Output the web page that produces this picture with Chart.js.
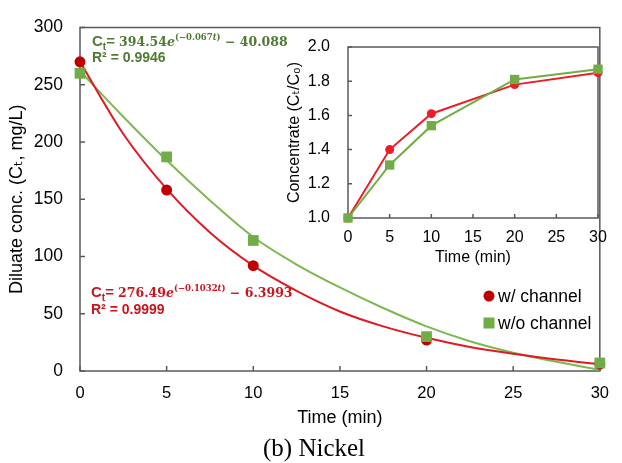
<!DOCTYPE html>
<html>
<head>
<meta charset="utf-8">
<script src="https://cdn.jsdelivr.net/npm/chart.js@4.4.1/dist/chart.umd.min.js"></script>
<style>
  html, body { margin: 0; padding: 0; background: #fff; }
  #wrap { position: relative; width: 622px; height: 463px; }
  #wrap canvas { position: absolute; left: 0; top: 0; }
</style>
</head>
<body>
<div id="wrap">
  <canvas id="main" width="622" height="463"></canvas>
  <canvas id="inset" width="622" height="463"></canvas>
</div>
<script>
// sampling times (min)
const timePoints = [0, 5, 10, 20, 30];

// diluate concentration, mg/L
const diluteWith = [270, 158, 92, 27, 6];
const diluteWithout = [260, 187, 114, 30, 7];

// fitted exponential curves
const fitTime = [0, 2.5, 5, 7.5, 10, 12.5, 15, 17.5, 20, 22.5, 25, 27.5, 30];
const fitWith = [270, 207, 159, 121, 92, 70, 52, 39, 29, 21, 15, 10, 6];
const fitWithout = [262, 222, 184, 149, 117, 93, 73, 55, 39, 26, 16, 8, 1];

// concentrate ratio Ct/C0 (inset)
const ratioWith = [1.0, 1.40, 1.61, 1.78, 1.85];
const ratioWithout = [1.0, 1.31, 1.54, 1.81, 1.87];

// tick labels
const timeTicks = [0, 5, 10, 15, 20, 25, 30];
const diluteTicks = [0, 50, 100, 150, 200, 250, 300];
const ratioTicks = [1.0, 1.2, 1.4, 1.6, 1.8, 2.0];

const SANS = "'Liberation Sans', Arial, 'DejaVu Sans', sans-serif";
const SERIF = "'DejaVu Serif', serif";

const RED_MARK = "#C00000";
const RED_LINE = "#E01A22";
const GREEN = "#70AD47";
const GREEN_LINE = "#7CB850";
const GREEN_TEXT = "#4F7A31";
const RED_TEXT = "#C9151E";

Chart.defaults.font.family = SANS;
Chart.defaults.color = "#000";

const toXY = (xs, ys) => xs.map((x, i) => ({ x, y: ys[i] }));

// frame box + Excel style inside tick marks
const insideTicks = {
  id: "insideTicks",
  beforeDatasetsDraw(chart, args, opts) {
    const { ctx, chartArea: a, scales: { x, y } } = chart;
    ctx.save();
    ctx.strokeStyle = opts.color;
    ctx.lineWidth = opts.width;
    ctx.strokeRect(a.left, a.top, a.right - a.left, a.bottom - a.top);
    ctx.beginPath();
    x.ticks.forEach((t) => {
      const px = x.getPixelForValue(t.value);
      ctx.moveTo(px, a.bottom);
      ctx.lineTo(px, a.bottom - opts.len);
    });
    y.ticks.forEach((t) => {
      const py = y.getPixelForValue(t.value);
      ctx.moveTo(a.left, py);
      ctx.lineTo(a.left + opts.len, py);
    });
    ctx.stroke();
    ctx.restore();
  },
};

function drawRuns(ctx, x, y, color, runs) {
  ctx.fillStyle = color;
  ctx.textBaseline = "alphabetic";
  ctx.textAlign = "left";
  runs.forEach((r) => {
    ctx.font = r.f;
    ctx.fillText(r.t, x, y + (r.dy || 0));
    x += ctx.measureText(r.t).width;
  });
}

function equation(coef, k, c) {
  return [
    { t: "C", f: `bold 15px ${SANS}` },
    { t: "t", f: `bold 10px ${SANS}`, dy: 4 },
    { t: "= ", f: `bold 15px ${SANS}` },
    { t: coef, f: `bold 12.5px ${SERIF}` },
    { t: "e", f: `bold italic 12.5px ${SERIF}` },
    { t: "(−" + k, f: `bold 8.5px ${SERIF}`, dy: -6 },
    { t: "t", f: `bold italic 8.5px ${SERIF}`, dy: -6 },
    { t: ")", f: `bold 8.5px ${SERIF}`, dy: -6 },
    { t: " − " + c, f: `bold 12.5px ${SERIF}` },
  ];
}

// equations, legend and caption of the main plot
const annotations = {
  id: "annotations",
  afterDraw(chart) {
    const { ctx } = chart;
    ctx.save();
    drawRuns(ctx, 92, 46, GREEN_TEXT, equation("394.54", "0.067", "40.088"));
    drawRuns(ctx, 92, 62, GREEN_TEXT, [{ t: "R² = 0.9946", f: `bold 14px ${SANS}` }]);
    drawRuns(ctx, 91, 297, RED_TEXT, equation("276.49", "0.1032", "6.3993"));
    drawRuns(ctx, 91, 314, RED_TEXT, [{ t: "R² = 0.9999", f: `bold 14px ${SANS}` }]);

    // legend
    ctx.fillStyle = RED_MARK;
    ctx.beginPath();
    ctx.arc(489, 296, 5.5, 0, Math.PI * 2);
    ctx.fill();
    ctx.fillStyle = GREEN;
    ctx.fillRect(483.5, 317.5, 11, 11);
    ctx.fillStyle = "#000";
    ctx.font = `17.5px ${SANS}`;
    ctx.textBaseline = "middle";
    ctx.fillText("w/ channel", 498, 297);
    ctx.fillText("w/o channel", 498, 324);

    // caption
    ctx.font = `25px 'Liberation Serif', 'Times New Roman', serif`;
    ctx.textAlign = "center";
    ctx.fillText("(b) Nickel", 314, 449);
    ctx.restore();
  },
};

new Chart(document.getElementById("main"), {
  type: "scatter",
  data: {
    datasets: [
      {
        label: "w/o channel",
        data: toXY(timePoints, diluteWithout),
        pointStyle: "rect",
        pointRadius: 7.6,
        backgroundColor: GREEN,
        borderWidth: 0,
        clip: false,
        order: 1,
      },
      {
        label: "w/ channel",
        data: toXY(timePoints, diluteWith),
        pointStyle: "circle",
        pointRadius: 5.5,
        backgroundColor: RED_MARK,
        borderWidth: 0,
        clip: false,
        order: 2,
      },
      {
        label: "fit w/ channel",
        data: toXY(fitTime, fitWith),
        showLine: true,
        pointRadius: 0,
        borderColor: RED_LINE,
        borderWidth: 2,
        cubicInterpolationMode: "monotone",
        order: 3,
      },
      {
        label: "fit w/o channel",
        data: toXY(fitTime, fitWithout),
        showLine: true,
        pointRadius: 0,
        borderColor: GREEN_LINE,
        borderWidth: 2,
        cubicInterpolationMode: "monotone",
        order: 4,
      },
    ],
  },
  options: {
    responsive: false,
    devicePixelRatio: 1,
    animation: false,
    layout: { padding: { left: 0, right: 8, top: 19, bottom: 0 } },
    plugins: {
      legend: { display: false },
      tooltip: { enabled: false },
      insideTicks: { color: "#595959", width: 1.5, len: 5 },
    },
    scales: {
      x: {
        type: "linear",
        min: 0,
        max: 30,
        afterBuildTicks: (s) => { s.ticks = timeTicks.map((v) => ({ value: v })); },
        afterFit: (s) => { s.height = 92; },
        grid: { display: false, drawTicks: false },
        border: { display: false },
        ticks: { font: { size: 16.5 }, padding: 13 },
        title: {
          display: true,
          text: "Time (min)",
          font: { size: 18 },
          padding: { top: 0, bottom: 34 },
        },
      },
      y: {
        min: 0,
        max: 300,
        afterBuildTicks: (s) => { s.ticks = diluteTicks.map((v) => ({ value: v })); },
        afterFit: (s) => { s.width = 80; },
        grid: { display: false, drawTicks: false },
        border: { display: false },
        ticks: { font: { size: 17.5 }, padding: 17 },
        title: {
          display: true,
          text: "Diluate conc. (Cₜ, mg/L)",
          font: { size: 18 },
          padding: { top: 6, bottom: 0 },
        },
      },
    },
  },
  plugins: [insideTicks, annotations],
});

// inset: concentrate ratio
new Chart(document.getElementById("inset"), {
  type: "scatter",
  data: {
    datasets: [
      {
        label: "w/o channel",
        data: toXY(timePoints, ratioWithout),
        showLine: true,
        pointStyle: "rect",
        pointRadius: 6.6,
        backgroundColor: GREEN,
        borderColor: GREEN,
        pointBorderWidth: 0,
        borderWidth: 2,
        clip: false,
        order: 1,
      },
      {
        label: "w/ channel",
        data: toXY(timePoints, ratioWith),
        showLine: true,
        pointStyle: "circle",
        pointRadius: 4.5,
        backgroundColor: "#EE1C25",
        borderColor: "#EE1C25",
        pointBorderWidth: 0,
        borderWidth: 2,
        clip: false,
        order: 2,
      },
    ],
  },
  options: {
    responsive: false,
    devicePixelRatio: 1,
    animation: false,
    layout: { padding: { left: 278, right: 24, top: 47, bottom: 193 } },
    plugins: {
      legend: { display: false },
      tooltip: { enabled: false },
      insideTicks: { color: "#595959", width: 1.5, len: 4 },
    },
    scales: {
      x: {
        type: "linear",
        min: 0,
        max: 30,
        afterBuildTicks: (s) => { s.ticks = timeTicks.map((v) => ({ value: v })); },
        afterFit: (s) => { s.height = 52; },
        grid: { display: false, drawTicks: false },
        border: { display: false },
        ticks: { font: { size: 16 }, padding: 9.5 },
        title: {
          display: true,
          text: "Time (min)",
          font: { size: 16 },
          padding: { top: 0, bottom: 2.4 },
        },
      },
      y: {
        min: 1.0,
        max: 2.0,
        afterBuildTicks: (s) => { s.ticks = ratioTicks.map((v) => ({ value: v })); },
        afterFit: (s) => { s.width = 70; },
        grid: { display: false, drawTicks: false },
        border: { display: false },
        ticks: { font: { size: 16 }, padding: 18, callback: (v) => v.toFixed(1) },
        title: {
          display: true,
          text: "Concentrate (Cₜ/C₀)",
          font: { size: 16 },
          padding: { top: 7.4, bottom: 0 },
        },
      },
    },
  },
  plugins: [insideTicks],
});
</script>
</body>
</html>
